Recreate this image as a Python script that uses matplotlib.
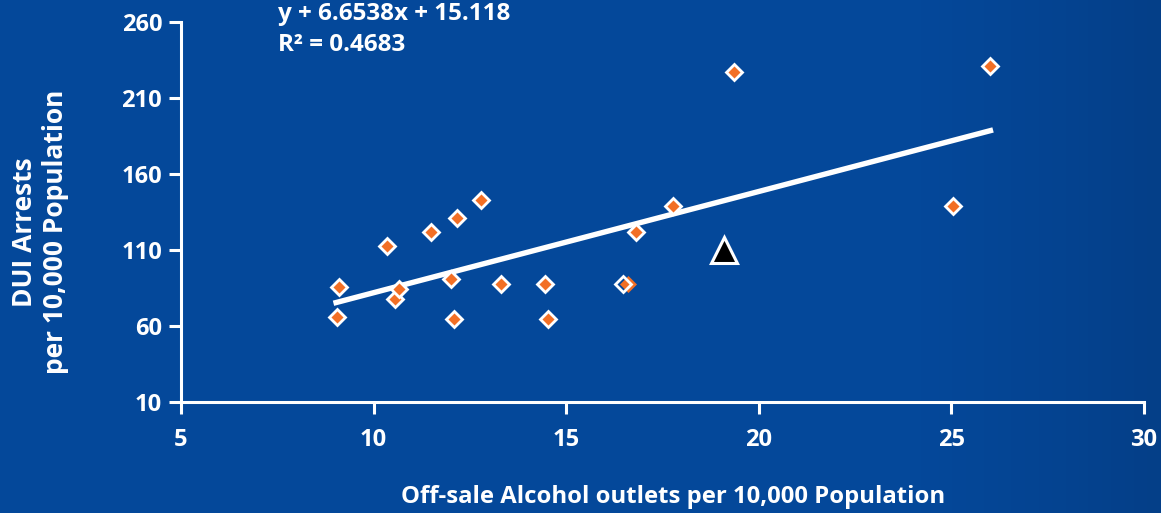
import numpy as np
import matplotlib
matplotlib.use("Agg")
import matplotlib.pyplot as plt
from matplotlib.colors import LinearSegmentedColormap

# outlets per 10,000 vs DUI arrests per 10,000
outlets = [9.04, 9.11, 10.34, 10.57, 10.67, 11.49, 12.02, 12.08, 12.17, 12.78,
           13.32, 14.46, 14.54, 16.82, 17.79, 19.35, 25.06, 26.0]
arrests = [66.0, 85.4, 112.1, 77.7, 84.2, 121.6, 90.8, 64.3, 131.0, 142.7,
           87.1, 87.1, 64.3, 121.6, 138.9, 226.7, 138.9, 230.7]
# two points almost on top of each other: one drawn plain, one as an outline
plain_x = [16.62]
plain_y = [87.1]
hollow_x = [16.47]
hollow_y = [87.1]
# highlighted area
tri_x = [19.11]
tri_y = [110.0]

slope, intercept = 6.6538, 15.118
xticks = [5, 10, 15, 20, 25, 30]
yticks = [10, 60, 110, 160, 210, 260]

bg = "#04489a"
orange = "#f26f25"

plt.rcParams['font.family'] = ['Open Sans', 'DejaVu Sans']
plt.rcParams['font.weight'] = 'bold'

fig = plt.figure(figsize=(11.61, 5.13), dpi=100, facecolor=bg)

# faint darker shading toward the right edge (photo behind the chart)
bgax = fig.add_axes([0, 0, 1, 1], zorder=-1)
bgax.axis("off")
shade = LinearSegmentedColormap.from_list("shade", [bg, bg, "#043f88"])
grad = np.linspace(0, 1, 256).reshape(1, -1) ** 3
bgax.imshow(grad, cmap=shade, aspect="auto", extent=[0, 1, 0, 1])

ax = fig.add_axes([0.1559, 0.217, 0.985 - 0.1559, 0.958 - 0.217])
ax.set_facecolor("none")

# trend line
xs = np.array(outlets + plain_x + hollow_x)
lx = np.array([xs.min() - 0.08, xs.max() + 0.09])
ax.plot(lx, slope * lx + intercept, color="white", lw=3.9, solid_capstyle="butt", zorder=2)

ax.plot(outlets, arrests, linestyle="none", marker="D", ms=8.2, mfc=orange,
        mec="white", mew=2.0, zorder=3)
ax.plot(plain_x, plain_y, linestyle="none", marker="D", ms=8.0, mfc=orange,
        mec=orange, mew=0.5, zorder=3)
ax.plot(hollow_x, hollow_y, linestyle="none", marker="D", ms=8.2, mfc="none",
        mec="white", mew=2.0, zorder=4)
ax.plot(tri_x, tri_y, linestyle="none", marker="^", ms=19, mfc="black",
        mec="white", mew=2.2, zorder=4)

ax.set_xlim(5, 30)
ax.set_ylim(10, 260)
ax.set_xticks(xticks)
ax.set_yticks(yticks)
ax.set_xticklabels([str(t) for t in xticks], fontsize=17, fontweight="bold", color="white")
ax.set_yticklabels([str(t) for t in yticks], fontsize=17, fontweight="bold", color="white")

for s in ["top", "right"]:
    ax.spines[s].set_visible(False)
for s in ["left", "bottom"]:
    ax.spines[s].set_color("white")
    ax.spines[s].set_linewidth(2.2)
    ax.spines[s].set_capstyle("projecting")

ax.tick_params(axis="both", colors="white", width=2.2, length=8.6)
ax.tick_params(axis="x", pad=10)
ax.tick_params(axis="y", pad=5)

fig.text(278 / 1161, 1 - 14 / 513, "y + 6.6538x + 15.118", color="white",
         fontsize=17.5, fontweight="bold", ha="left", va="center")
fig.text(278 / 1161, 1 - 45 / 513, "R² = 0.4683", color="white",
         fontsize=17.5, fontweight="bold", ha="left", va="center")

fig.text(673.5 / 1161, 1 - 497 / 513, "Off-sale Alcohol outlets per 10,000 Population",
         color="white", fontsize=17.2, fontweight="bold", ha="center", va="center")
fig.text(40 / 1161, 1 - 232 / 513, "DUI Arrests\nper 10,000 Population",
         color="white", fontsize=19, fontweight="bold", ha="center", va="center",
         rotation=90, multialignment="center", linespacing=1.15)

fig.savefig("out.png", dpi=100, facecolor=bg)
